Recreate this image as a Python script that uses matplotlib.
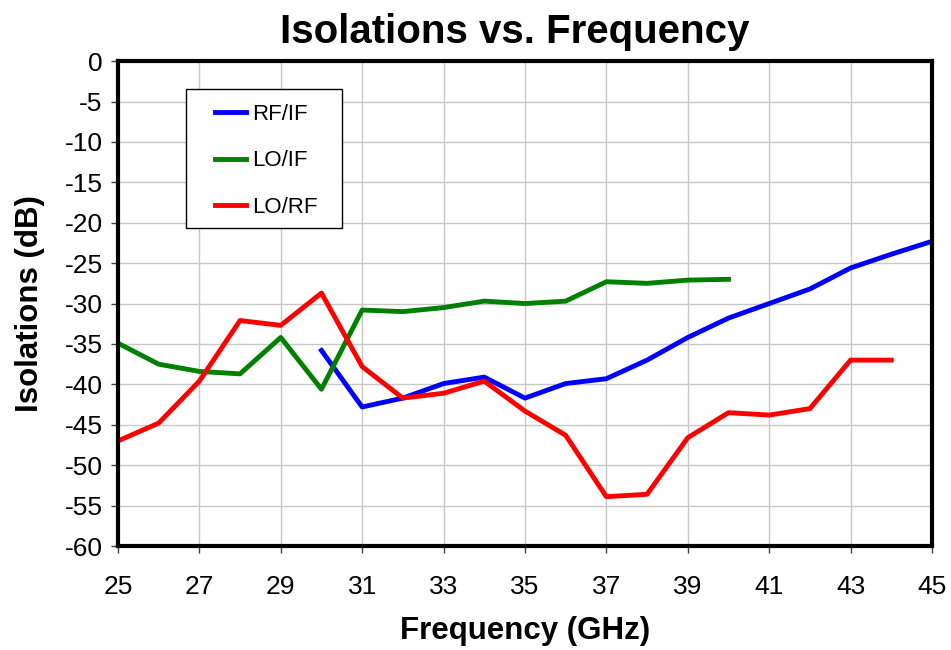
import matplotlib.pyplot as plt
from matplotlib.patches import Rectangle

plt.rcParams['font.family'] = ['Liberation Sans', 'DejaVu Sans']
plt.rcParams['axes.unicode_minus'] = False

# data
freq_rfif = [30, 31, 32, 33, 34, 35, 36, 37, 38, 39, 40, 41, 42, 43, 44, 45]
rf_if = [-35.8, -42.8, -41.7, -39.9, -39.1, -41.7, -39.9, -39.3, -37.0,
         -34.2, -31.8, -30.0, -28.2, -25.6, -23.9, -22.3]

freq_loif = [25, 26, 27, 28, 29, 30, 31, 32, 33, 34, 35, 36, 37, 38, 39, 40]
lo_if = [-34.9, -37.5, -38.4, -38.7, -34.2, -40.6, -30.8, -31.0, -30.5,
         -29.7, -30.0, -29.7, -27.3, -27.5, -27.1, -27.0]

freq_lorf = [25, 26, 27, 28, 29, 30, 31, 32, 33, 34, 35, 36, 37, 38, 39,
             40, 41, 42, 43, 44]
lo_rf = [-47.0, -44.8, -39.6, -32.1, -32.7, -28.7, -37.8, -41.7, -41.1,
         -39.6, -43.3, -46.3, -53.9, -53.6, -46.6, -43.5, -43.8, -43.0,
         -37.0, -37.0]

fig = plt.figure(figsize=(9.51, 6.5), dpi=100)
ax = fig.add_axes([0.124, 0.160, 0.856, 0.746])

ax.plot(freq_rfif, rf_if, color='#0000ff', lw=3.5, label='RF/IF')
ax.plot(freq_loif, lo_if, color='#008000', lw=3.5, label='LO/IF')
ax.plot(freq_lorf, lo_rf, color='#ff0000', lw=3.5, label='LO/RF')

ax.set_xlim(25, 45)
ax.set_ylim(-60, 0)
ax.set_xticks(range(25, 46, 2))
ax.set_yticks(range(-60, 1, 5))
ax.grid(True, color='#c8c8c8', lw=1)
ax.set_axisbelow(True)
for s in ax.spines.values():
    s.set_linewidth(3)
    s.set_color('black')
ax.tick_params(axis='both', direction='out', length=5, width=1,
               color='#404040', labelsize=19)
ax.tick_params(axis='x', pad=16)
ax.tick_params(axis='y', pad=6)

ax.set_title('Isolations vs. Frequency', fontsize=29, fontweight='bold',
             pad=13, x=0.488)
ax.set_xlabel('Frequency (GHz)', fontsize=22.5, fontweight='bold', labelpad=12)
ax.set_ylabel('Isolations (dB)', fontsize=22.5, fontweight='bold', labelpad=14)

# legend box
ax.add_patch(Rectangle((0.0835, 0.656), 0.1915, 0.286, transform=ax.transAxes,
                       fill=True, facecolor='white', edgecolor='black',
                       lw=1, zorder=4))
ax.legend(loc='upper left', bbox_to_anchor=(0.105, 0.935), frameon=False,
          fontsize=16, borderpad=0, labelspacing=1.15, handlelength=1.4,
          handletextpad=0.3)

fig.savefig('out.png', dpi=100)
